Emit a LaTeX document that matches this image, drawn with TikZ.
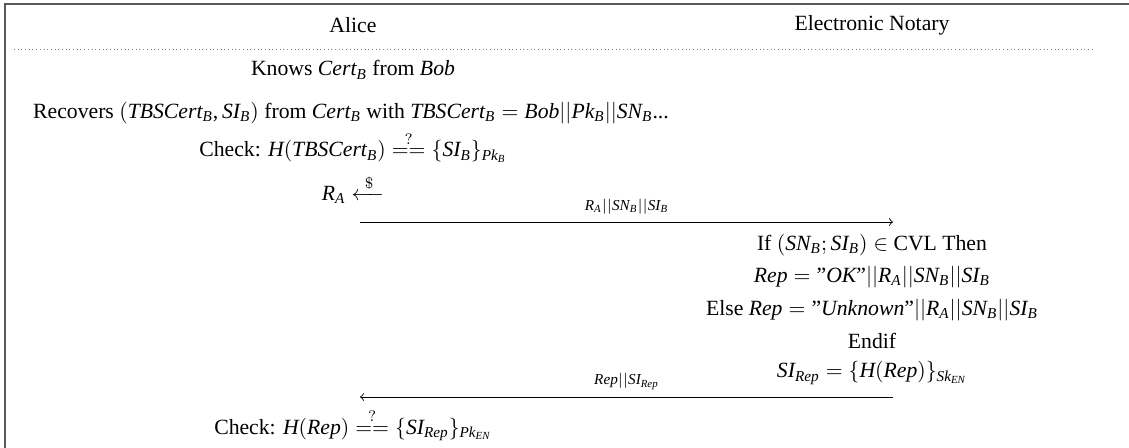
\documentclass[tikz,border=0pt]{standalone}
\usepackage{amsmath}
\usepackage{fontspec}
\setmainfont{Liberation Serif}
\DeclareSymbolFont{letters}{TU}{\rmdefault}{m}{it}
\mathcode`\,="602C
\mathcode`\.="002E
\newcommand{\chk}{\overset{?}{==}}

\begin{document}
\begin{tikzpicture}[x=0.4606pt,y=-0.4606pt]
\useasboundingbox (0,0) rectangle (1129,448);
% frame
\draw[gray!70!black, line width=0.9pt] (5,448) -- (5,4) -- (1129,4);
% heads
\node (alice) at (353,25) {Alice};
\node (notary) at (872,25) {Electronic Notary};
\draw[gray, line width=0.4pt, dash pattern=on 0.4pt off 1.3pt] (14,49) -- (1093,49);
% Alice side
\node (knows) at (353,70) {Knows $Cert_B$ from $Bob$};
\node (recov) at (351,113) {Recovers $(TBSCert_B,SI_B)$ from $Cert_B$ with $TBSCert_B = Bob||Pk_B||SN_B...$};
\node (check1) at (353,147) {Check: $H(TBSCert_B) \chk \{SI_B\}_{Pk_B}$};
\node (rand) at (353,189) {$R_A \xleftarrow{\;\$\;}$};
% first message
\coordinate (a1) at (360,222);
\coordinate (n1) at (893,222);
\draw[->] (a1) -- node[above, font=\scriptsize] {$R_A||SN_B||SI_B$} (n1);
% Notary side
\node (if) at (872,245) {If $(SN_B;SI_B) \in$ CVL Then};
\node (ok) at (872,277) {$Rep = \text{''}OK\text{''}||R_A||SN_B||SI_B$};
\node (else) at (872,310) {Else $Rep = \text{''}Unknown\text{''}||R_A||SN_B||SI_B$};
\node (endif) at (872,341) {Endif};
\node (sign) at (872,373) {$SI_{Rep} = \{H(Rep)\}_{Sk_{EN}}$};
% answer
\coordinate (n2) at (893,397);
\coordinate (a2) at (360,397);
\draw[->] (n2) -- node[above, font=\scriptsize] {$Rep||SI_{Rep}$} (a2);
\node (check2) at (353,425) {Check: $H(Rep) \chk \{SI_{Rep}\}_{Pk_{EN}}$};
\end{tikzpicture}
\end{document}
